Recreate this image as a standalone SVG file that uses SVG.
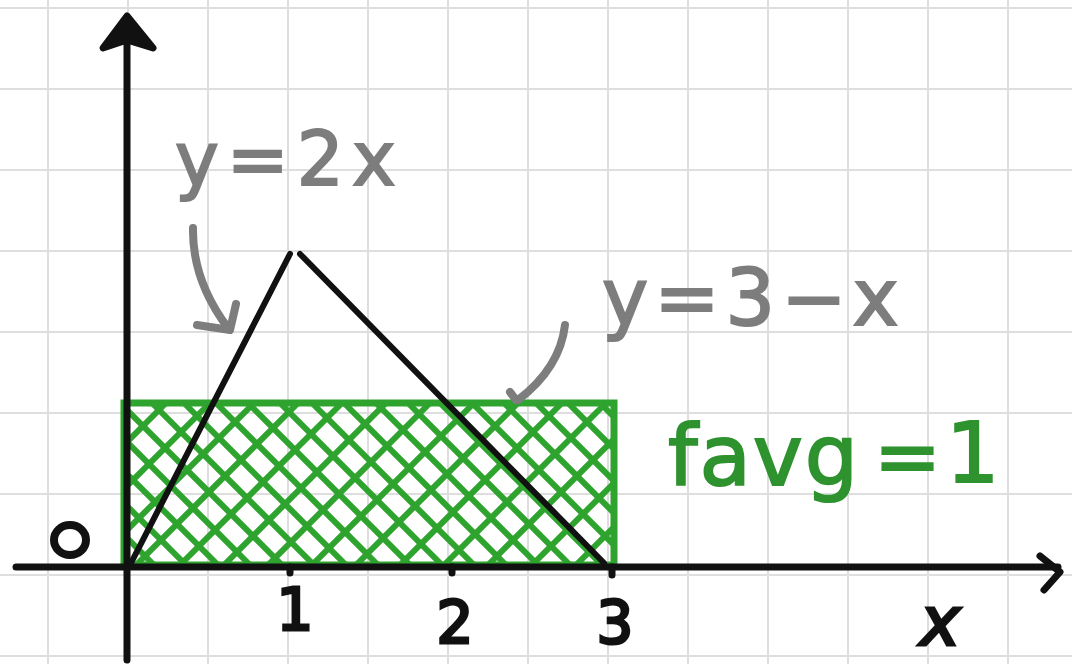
<svg xmlns="http://www.w3.org/2000/svg" width="1072" height="664" viewBox="0 0 1072 664">
<defs>
<style>
.grid{stroke:#dedede;stroke-width:2;fill:none}
.axis{stroke:#111;stroke-width:7;fill:none;stroke-linecap:round;stroke-linejoin:round}
.curve{stroke:#111;stroke-width:6;fill:none;stroke-linecap:round}
.hatch{stroke:#2ea32e;stroke-width:6;fill:none;stroke-linecap:round}
.pointer{stroke:#7d7d7d;stroke-width:8;fill:none;stroke-linecap:round;stroke-linejoin:round}
.gray{font-family:"DejaVu Sans",sans-serif;fill:#7d7d7d;stroke:#7d7d7d;stroke-width:2}
.green{font-family:"DejaVu Sans",sans-serif;fill:#2e922e;stroke:#2e922e;stroke-width:2}
.tick{font-family:"DejaVu Sans",sans-serif;fill:#111;stroke:#111;stroke-width:3;text-anchor:middle}
</style>
<clipPath id="rectclip"><rect x="124" y="403" width="490" height="162"/></clipPath>
</defs>
<rect x="0" y="0" width="1072" height="664" fill="#ffffff"/>
<g id="grid" class="grid">
<path d="M48 0V664M128 0V664M208 0V664M288 0V664M368 0V664M448 0V664M528 0V664M608 0V664M688 0V664M768 0V664M848 0V664M928 0V664M1008 0V664"/>
<path d="M0 8H1072M0 89H1072M0 170H1072M0 251H1072M0 332H1072M0 413H1072M0 494H1072M0 575H1072M0 656H1072"/>
</g>
<g id="favg-area">
<g clip-path="url(#rectclip)" class="hatch">
<path d="M-40 403l162 162M-8 403l162 162M24 403l162 162M56 403l162 162M88 403l162 162M120 403l162 162M152 403l162 162M184 403l162 162M216 403l162 162M248 403l162 162M280 403l162 162M312 403l162 162M344 403l162 162M376 403l162 162M408 403l162 162M440 403l162 162M472 403l162 162M504 403l162 162M536 403l162 162M568 403l162 162M600 403l162 162"/>
<path d="M-40 565l162 -162M4 565l162 -162M48 565l162 -162M92 565l162 -162M136 565l162 -162M180 565l162 -162M224 565l162 -162M268 565l162 -162M312 565l162 -162M356 565l162 -162M400 565l162 -162M444 565l162 -162M488 565l162 -162M532 565l162 -162M576 565l162 -162"/>
</g>
<rect x="124" y="403" width="490" height="162" fill="none" stroke="#2ea32e" stroke-width="7"/>
</g>
<g id="axes" class="axis">
<path d="M127 660V18"/>
<path d="M103 48L127 16L153 48L127 40Z" fill="#111"/>
<path d="M16 567H1058"/>
<path d="M1040 556L1060 572L1044 590"/>
<path d="M290 567v6M452 567v6M612 567v8"/>
</g>
<g id="functions" class="curve">
<path d="M130 565L290 254"/>
<path d="M300 254L604 563"/>
</g>
<g id="pointers" class="pointer">
<path d="M193 228Q192 280 228 328"/>
<path d="M197 325L230 330L236 304"/>
<path d="M565 325Q560 368 518 400"/>
<path d="M510 392L516 400"/>
</g>
<g id="labels">
<text class="gray" x="175" y="185" font-size="74" letter-spacing="8">y=2x</text>
<text class="gray" x="602" y="325" font-size="78" letter-spacing="6">y=3−x</text>
<text class="green" x="668" y="485" font-size="84" letter-spacing="2">favg</text>
<text class="green" x="874" y="484" font-size="80">=</text>
<text class="green" x="946" y="482" font-size="84">1</text>
<ellipse cx="70" cy="540" rx="16" ry="15" fill="none" stroke="#111" stroke-width="8"/>
<text class="tick" x="295" y="630" font-size="58">1</text>
<text class="tick" x="455" y="643" font-size="58">2</text>
<text class="tick" x="615" y="643" font-size="58">3</text>
<text class="tick" x="940" y="645" font-size="68" font-style="italic">x</text>
</g>
</svg>
